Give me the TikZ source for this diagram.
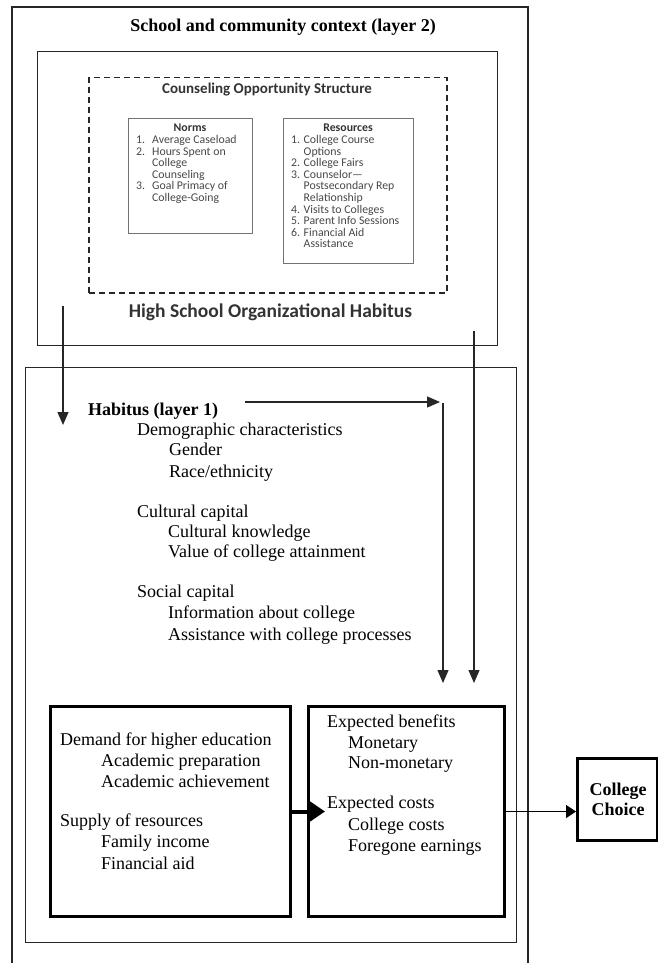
\documentclass[tikz,border=0pt]{standalone}
\usepackage{fontspec}
\setmainfont{Liberation Serif}
\newfontfamily\carl{Carlito}
\usetikzlibrary{arrows.meta}
\begin{document}
\begin{tikzpicture}[x=1pt,y=-1pt,
  frame/.style={draw=black!85, line width=1.3pt, inner sep=0pt, anchor=north west},
  dashbox/.style={draw=black!85, line width=1.5pt, dash pattern=on 6pt off 4pt, inner sep=0pt, anchor=north west},
  graybox/.style={draw=black!55, line width=1pt, inner sep=0pt, anchor=north west},
  thickbox/.style={draw=black, line width=3pt, inner sep=0pt, anchor=north west},
  tx/.style={anchor=base west, inner sep=0pt, font=\fontsize{18}{20}\selectfont},
  txb/.style={anchor=base, inner sep=0pt, font=\bfseries\fontsize{18}{20}\selectfont},
  sm/.style={anchor=base west, inner sep=0pt, text=black!72, font=\carl\fontsize{11.8}{12}\selectfont},
  smb/.style={anchor=base, inner sep=0pt, text=black!80, font=\carl\bfseries\fontsize{11.8}{12}\selectfont},
  arr/.style={draw=black!85, line width=1.3pt, -{Triangle[length=13pt,width=11pt]}},
]
\useasboundingbox (0,0) rectangle (658,963);

% outer context frame (open at the bottom)
\coordinate (obl) at (12,963);
\coordinate (otl) at (12,7);
\coordinate (otr) at (528,7);
\coordinate (obr) at (528,963);
\draw[draw=black!85, line width=1.3pt] (obl) -- (otl) -- (otr) -- (obr);
\node[txb] (ctxtitle) at (283,32) {School and community context (layer 2)};

% layer 2 boxes
\node[frame, minimum width=460pt, minimum height=294pt] (hsoh) at (37,51) {};
\node[dashbox, minimum width=358pt, minimum height=215pt] (cos) at (88,77) {};
\node[anchor=base, inner sep=0pt, text=black!80, font=\carl\bfseries\fontsize{15}{16}\selectfont] (costitle) at (267,94) {Counseling Opportunity Structure};
\node[anchor=base, inner sep=0pt, text=black!80, font=\carl\bfseries\fontsize{19.5}{20}\selectfont] (hsohtitle) at (270.5,317) {High School Organizational Habitus};

\node[graybox, minimum width=124pt, minimum height=115pt] (norms) at (128,118) {};
\node[smb] (normsh) at (190,131.5) {Norms};
\node[sm] (n1) at (136,143.5) {1.};
\node[sm] (n1t) at (152,143.5) {Average Caseload};
\node[sm] (n2) at (136,155.1) {2.};
\node[sm] (n2t) at (152,155.1) {Hours Spent on};
\node[sm] (n2b) at (152,166.7) {College};
\node[sm] (n2c) at (152,178.3) {Counseling};
\node[sm] (n3) at (136,189.9) {3.};
\node[sm] (n3t) at (152,189.9) {Goal Primacy of};
\node[sm] (n3b) at (152,201.5) {College-Going};

\node[graybox, minimum width=130pt, minimum height=145pt] (res) at (283,118) {};
\node[smb] (resh) at (348,131.5) {Resources};
\node[sm] (r1) at (291,143.5) {1.};
\node[sm] (r1t) at (303.5,143.5) {College Course};
\node[sm] (r1b) at (303.5,155.1) {Options};
\node[sm] (r2) at (291,166.7) {2.};
\node[sm] (r2t) at (303.5,166.7) {College Fairs};
\node[sm] (r3) at (291,178.3) {3.};
\node[sm] (r3t) at (303.5,178.3) {Counselor—};
\node[sm] (r3b) at (303.5,189.9) {Postsecondary Rep};
\node[sm] (r3c) at (303.5,201.5) {Relationship};
\node[sm] (r4) at (291,213.1) {4.};
\node[sm] (r4t) at (303.5,213.1) {Visits to Colleges};
\node[sm] (r5) at (291,224.7) {5.};
\node[sm] (r5t) at (303.5,224.7) {Parent Info Sessions};
\node[sm] (r6) at (291,236.3) {6.};
\node[sm] (r6t) at (303.5,236.3) {Financial Aid};
\node[sm] (r6b) at (303.5,247.9) {Assistance};

% layer 1 box
\node[frame, minimum width=491pt, minimum height=575pt] (hab) at (25,367) {};
\node[tx, font=\bfseries\fontsize{18}{20}\selectfont] (habt) at (88,415) {Habitus (layer 1)};
\node[tx] (dem) at (137,435) {Demographic characteristics};
\node[tx] (gen) at (169,455) {Gender};
\node[tx] (race) at (169,477) {Race/ethnicity};
\node[tx] (cul) at (137,517) {Cultural capital};
\node[tx] (culk) at (168,537) {Cultural knowledge};
\node[tx] (val) at (168,557) {Value of college attainment};
\node[tx] (soc) at (137,597) {Social capital};
\node[tx] (info) at (168,618) {Information about college};
\node[tx] (assist) at (168,640) {Assistance with college processes};

% bottom boxes
\node[thickbox, minimum width=240pt, minimum height=210pt] (demand) at (49,705) {};
\node[tx] (d1) at (60,745) {Demand for higher education};
\node[tx] (d2) at (101,766) {Academic preparation};
\node[tx] (d3) at (101,787) {Academic achievement};
\node[tx] (d4) at (60,826) {Supply of resources};
\node[tx] (d5) at (101,847) {Family income};
\node[tx] (d6) at (101,869) {Financial aid};

\node[thickbox, minimum width=196pt, minimum height=210pt] (expect) at (307,705) {};
\node[tx] (e1) at (327,727) {Expected benefits};
\node[tx] (e2) at (348,748) {Monetary};
\node[tx] (e3) at (348,768) {Non-monetary};
\node[tx] (e4) at (327,808) {Expected costs};
\node[tx] (e5) at (348,830) {College costs};
\node[tx] (e6) at (348,851) {Foregone earnings};

\node[thickbox, minimum width=80pt, minimum height=82pt] (choice) at (576,757) {};
\node[txb] (ch1) at (618,795) {College};
\node[txb] (ch2) at (618,815) {Choice};

% connectors
\coordinate (la1) at (63,306);
\coordinate (la2) at (63,425);
\draw[arr] (la1) -- (la2);
\coordinate (ra1) at (474,331);
\coordinate (ra2) at (474,683);
\draw[arr] (ra1) -- (ra2);
\coordinate (ha1) at (245,402);
\coordinate (ha2) at (440,402);
\draw[arr] (ha1) -- (ha2);
\coordinate (hv1) at (443,403);
\coordinate (hv2) at (443,683);
\draw[arr] (hv1) -- (hv2);
\draw[line width=4pt, -{Triangle[length=17pt,width=22pt]}] (demand.east) -- ([xshift=18pt]expect.west);
\draw[draw=black, line width=1.3pt, -{Triangle[length=10pt,width=13pt]}] (expect.east) -- (expect.east -| choice.west);
\end{tikzpicture}
\end{document}
